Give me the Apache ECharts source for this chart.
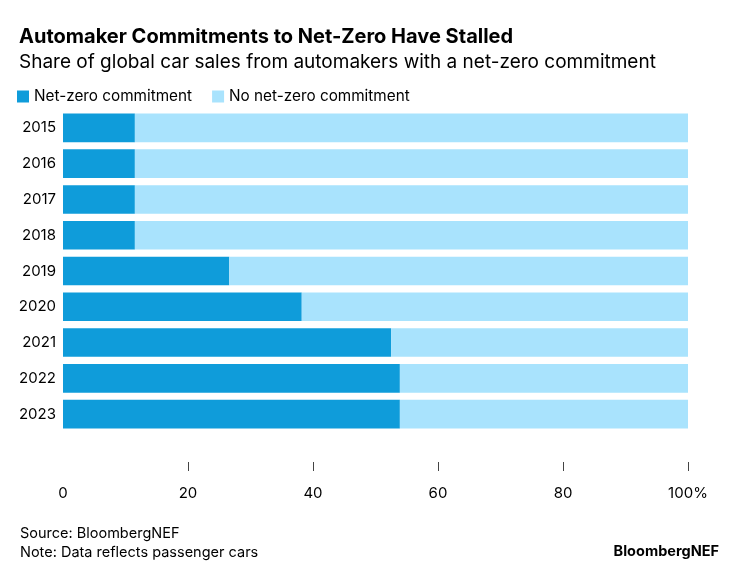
<!DOCTYPE html>
<html>
<head>
<meta charset="utf-8">
<script src="https://cdn.jsdelivr.net/npm/echarts@6/dist/echarts.min.js"></script>
<style>html,body{margin:0;padding:0;background:#fff}#c{width:740px;height:570px}</style>
</head>
<body>
<div id="c"></div>
<script>
const years = ['2015','2016','2017','2018','2019','2020','2021','2022','2023'];
const netZero = [11.5, 11.5, 11.5, 11.5, 26.6, 38.2, 52.5, 53.9, 53.9];
const noNetZero = [88.5, 88.5, 88.5, 88.5, 73.4, 61.8, 47.5, 46.1, 46.1];
const xTicks = [20, 40, 60, 80, 100];

const FONT = 'Inter, Roboto, "Liberation Sans", sans-serif';
const chart = echarts.init(document.getElementById('c'));
chart.setOption({
  animation: false,
  textStyle: { fontFamily: FONT },
  title: [
    { text: 'Automaker Commitments to Net-Zero Have Stalled', left: 14, top: 22,
      textStyle: { fontFamily: FONT, fontSize: 20, fontWeight: 'bold', color: '#000' } },
    { text: 'Share of global car sales from automakers with a net-zero commitment', left: 14, top: 48,
      textStyle: { fontFamily: FONT, fontSize: 19, fontWeight: 'normal', color: '#000' } },
    { text: 'Source: BloombergNEF\nNote: Data reflects passenger cars', left: 15, top: 519,
      textStyle: { fontFamily: FONT, fontSize: 14.5, fontWeight: 'normal', color: '#000', lineHeight: 19 } },
    { text: 'BloombergNEF', right: 16, top: 539,
      textStyle: { fontFamily: FONT, fontSize: 14.5, fontWeight: 'bold', color: '#000' } }
  ],
  legend: {
    left: 12, top: 84, itemWidth: 12, itemHeight: 12, itemGap: 20,
    icon: 'rect',
    textStyle: { fontFamily: FONT, fontSize: 15.3, color: '#000' },
    data: ['Net-zero commitment', 'No net-zero commitment']
  },
  grid: { left: 63, right: 52, top: 110, bottom: 138, containLabel: false },
  xAxis: {
    type: 'value', min: 0, max: 100, interval: 20, offset: 30,
    axisLine: { show: false },
    splitLine: { show: false },
    axisTick: { show: true, customValues: xTicks, length: 9, inside: false, lineStyle: { color: '#444' } },
    axisLabel: { margin: 24, fontSize: 15, color: '#000', fontFamily: FONT,
      formatter: v => v === 100 ? '100%' : String(v) }
  },
  yAxis: {
    type: 'category', data: years, inverse: true,
    axisLine: { show: false }, axisTick: { show: false },
    axisLabel: { margin: 7, fontSize: 15, color: '#000', fontFamily: FONT }
  },
  series: [
    { name: 'Net-zero commitment', type: 'bar', stack: 's', data: netZero, barCategoryGap: '20%',
      itemStyle: { color: '#0f9cda' } },
    { name: 'No net-zero commitment', type: 'bar', stack: 's', data: noNetZero, barCategoryGap: '20%',
      itemStyle: { color: '#a9e3fd' } }
  ]
});
</script>
</body>
</html>
